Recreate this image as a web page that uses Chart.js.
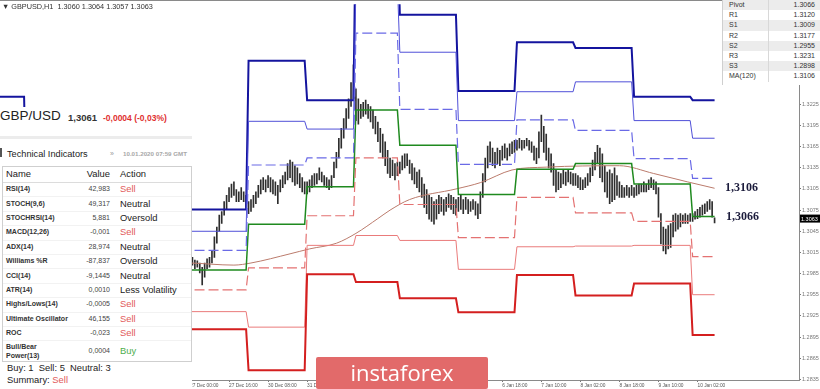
<!DOCTYPE html>
<html>
<head>
<meta charset="UTF-8">
<title>GBPUSD H1 - Pivot levels</title>
<script src="https://cdn.jsdelivr.net/npm/chart.js"></script>
<style>
  body { margin: 0; background: #fff; }
  #wrap { position: relative; width: 820px; height: 389px; overflow: hidden; font-family: "Liberation Sans", Arial, sans-serif; }
  #priceChart { position: absolute; left: 0; top: 0; }
  #topline { position: absolute; left: 0; top: 0; width: 820px; height: 1px; background: #8a8a8a; }
  #symhdr { position: absolute; left: 2px; top: 2px; font-size: 7.3px; line-height: 9px; color: #333; white-space: nowrap; }
  #side { position: absolute; left: 0; top: 107px; width: 192px; height: 282px; background: #fff; }
  .txt { position: absolute; white-space: nowrap; }
  .nm { font-size: 7px; font-weight: bold; color: #333; }
  .val { font-size: 7px; color: #444; text-align: right; }
  .act { font-size: 9.4px; color: #222; }
  .sell { color: #e25a5a; }
  .buy { color: #4cae4c; }
  #pivTbl { position: absolute; left: 722px; top: 0; width: 98px; border-left: 1px solid #cfcfcf; background: #fff; padding-bottom: 3px; }
  .prow { height: 10.2px; position: relative; font-size: 7px; color: #333; }
  .prow.g { background: #ececec; }
  .prow span { position: absolute; top: 0; line-height: 10.2px; }
  .prow .pn { left: 6px; }
  .prow .pv { right: 6px; }
  .prow .sep { left: 45px; top: 0; width: 1px; height: 10.2px; background: #d8d8d8; }
  #banner { position: absolute; left: 316px; top: 357px; width: 172px; height: 32px; background: #e26a6a; border-radius: 2px;
            color: #fff; font-family: "Open Sans", "Liberation Sans", sans-serif; font-size: 22px; line-height: 30px; text-align: center; }
</style>
</head>
<body>
<div id="wrap">
  <canvas id="priceChart" width="820" height="389"></canvas>
  <div id="topline"></div>
  <div id="symhdr">&#9660; GBPUSD,H1&nbsp; 1.3060 1.3064 1.3057 1.3063</div>
  <div id="side"></div>
  <div id="pivTbl"></div>
  <div id="banner">instaforex</div>
</div>

<script>
// ---- data ----

// H1 bars, index 0 = 27 Dec 00:00
var firstBar = -3;
var barLow = [
  1.2989, 1.2986, 1.2992,
  1.2994, 1.2997, 1.2992, 1.2994, 1.2986, 1.2969, 1.2980, 1.2992, 1.2994, 1.3000,
  1.3008, 1.3028, 1.3045, 1.3056, 1.3068, 1.3076, 1.3087, 1.3093, 1.3096, 1.3087,
  1.3087, 1.3090, 1.3087, 1.3079, 1.3070, 1.3073, 1.3079, 1.3084, 1.3093, 1.3098,
  1.3104, 1.3101, 1.3107, 1.3101, 1.3098, 1.3096, 1.3084, 1.3101, 1.3107, 1.3112,
  1.3118, 1.3121, 1.3115, 1.3110, 1.3112, 1.3107, 1.3101, 1.3098, 1.3098, 1.3101,
  1.3107, 1.3110, 1.3112, 1.3118, 1.3115, 1.3110, 1.3107, 1.3104, 1.3107, 1.3121,
  1.3135, 1.3149, 1.3163, 1.3177, 1.3191, 1.3205, 1.3222, 1.3233, 1.3202, 1.3197,
  1.3205, 1.3208, 1.3211, 1.3205, 1.3200, 1.3191, 1.3183, 1.3172, 1.3157, 1.3149,
  1.3138, 1.3127, 1.3121, 1.3124, 1.3118, 1.3124, 1.3127, 1.3132, 1.3135, 1.3138,
  1.3127, 1.3118, 1.3112, 1.3107, 1.3101, 1.3093, 1.3079, 1.3070, 1.3062, 1.3059,
  1.3055, 1.3062, 1.3070, 1.3073, 1.3068, 1.3073, 1.3079, 1.3076, 1.3070, 1.3068,
  1.3073, 1.3076, 1.3070, 1.3076, 1.3070, 1.3073, 1.3076, 1.3068, 1.3063, 1.3070,
  1.3093, 1.3115, 1.3135, 1.3143, 1.3138, 1.3135, 1.3141, 1.3138, 1.3146, 1.3149,
  1.3146, 1.3152, 1.3155, 1.3157, 1.3160, 1.3163, 1.3160, 1.3163, 1.3166, 1.3160,
  1.3157, 1.3146, 1.3141, 1.3149, 1.3172, 1.3157, 1.3146, 1.3135, 1.3129, 1.3110,
  1.3101, 1.3104, 1.3107, 1.3112, 1.3110, 1.3115, 1.3112, 1.3110, 1.3110, 1.3107,
  1.3104, 1.3104, 1.3107, 1.3110, 1.3115, 1.3124, 1.3132, 1.3141, 1.3121, 1.3115,
  1.3101, 1.3093, 1.3084, 1.3087, 1.3090, 1.3096, 1.3093, 1.3093, 1.3093, 1.3096,
  1.3093, 1.3096, 1.3093, 1.3096, 1.3098, 1.3101, 1.3101, 1.3101, 1.3104, 1.3107,
  1.3104, 1.3098, 1.3065, 1.3027, 1.3017, 1.3013, 1.3020, 1.3022, 1.3037, 1.3045,
  1.3048, 1.3051, 1.3056, 1.3056, 1.3056, 1.3059, 1.3059, 1.3062, 1.3063, 1.3065,
  1.3068, 1.3070, 1.3073, 1.3076, 1.3065, 1.3057
];
var barHigh = [
  1.3003, 1.3000, 1.3006,
  1.3006, 1.3008, 1.3004, 1.3003, 1.3000, 1.2994, 1.3000, 1.3006, 1.3008, 1.3017,
  1.3037, 1.3051, 1.3068, 1.3073, 1.3087, 1.3096, 1.3107, 1.3112, 1.3115, 1.3104,
  1.3101, 1.3107, 1.3101, 1.3096, 1.3087, 1.3090, 1.3096, 1.3101, 1.3110, 1.3118,
  1.3121, 1.3118, 1.3124, 1.3121, 1.3118, 1.3115, 1.3110, 1.3118, 1.3124, 1.3129,
  1.3141, 1.3146, 1.3143, 1.3138, 1.3135, 1.3127, 1.3121, 1.3115, 1.3115, 1.3118,
  1.3124, 1.3127, 1.3127, 1.3135, 1.3129, 1.3124, 1.3121, 1.3118, 1.3124, 1.3143,
  1.3157, 1.3177, 1.3191, 1.3205, 1.3219, 1.3233, 1.3256, 1.3281, 1.3247, 1.3233,
  1.3225, 1.3228, 1.3231, 1.3225, 1.3222, 1.3217, 1.3208, 1.3200, 1.3191, 1.3183,
  1.3172, 1.3160, 1.3149, 1.3146, 1.3141, 1.3143, 1.3143, 1.3152, 1.3155, 1.3155,
  1.3146, 1.3141, 1.3135, 1.3129, 1.3132, 1.3121, 1.3112, 1.3104, 1.3096, 1.3093,
  1.3087, 1.3090, 1.3096, 1.3093, 1.3090, 1.3093, 1.3098, 1.3096, 1.3093, 1.3090,
  1.3093, 1.3096, 1.3090, 1.3093, 1.3090, 1.3087, 1.3090, 1.3087, 1.3084, 1.3101,
  1.3127, 1.3149, 1.3166, 1.3172, 1.3163, 1.3157, 1.3163, 1.3160, 1.3166, 1.3169,
  1.3163, 1.3169, 1.3172, 1.3174, 1.3174, 1.3177, 1.3174, 1.3174, 1.3177, 1.3174,
  1.3172, 1.3166, 1.3163, 1.3186, 1.3210, 1.3194, 1.3183, 1.3163, 1.3155, 1.3141,
  1.3132, 1.3129, 1.3127, 1.3132, 1.3129, 1.3132, 1.3129, 1.3127, 1.3127, 1.3124,
  1.3121, 1.3118, 1.3121, 1.3127, 1.3135, 1.3146, 1.3157, 1.3167, 1.3163, 1.3155,
  1.3138, 1.3129, 1.3132, 1.3127, 1.3135, 1.3124, 1.3115, 1.3110, 1.3107, 1.3110,
  1.3107, 1.3110, 1.3107, 1.3110, 1.3112, 1.3112, 1.3115, 1.3112, 1.3118, 1.3121,
  1.3118, 1.3115, 1.3107, 1.3070, 1.3051, 1.3048, 1.3053, 1.3056, 1.3068, 1.3070,
  1.3068, 1.3070, 1.3068, 1.3070, 1.3068, 1.3070, 1.3070, 1.3073, 1.3076, 1.3079,
  1.3082, 1.3084, 1.3087, 1.3090, 1.3087, 1.3064
];
var lastPrice = 1.3063;

// daily pivot levels, one value per day segment (bar index where the day starts)
var dayStart = [-78, -67, 24, 48, 68, 86, 110, 134, 158, 182, 206];
var lastBar = 215;
var lvR3 = [1.3236, 1.3076, 1.3287, 1.3231, 1.3500, 1.3352, 1.3244, 1.3313, 1.3305, 1.3236, 1.3231];
var lvR2 = [null, 1.3045, 1.3201, 1.3190, 1.3395, 1.3299, 1.3202, 1.3243, 1.3257, 1.3202, 1.3177];
var lvR1 = [null, 1.3018, 1.3139, 1.3149, 1.3326, 1.3218, 1.3140, 1.3203, 1.3188, 1.3148, 1.3120];
var lvP  = [null, 1.2990, 1.3055, 1.3108, 1.3217, 1.3167, 1.3097, 1.3133, 1.3141, 1.3112, 1.3066];
var lvS1 = [null, 1.2962, 1.2993, 1.3067, 1.3149, 1.3083, 1.3036, 1.3093, 1.3071, 1.3059, 1.3009];
var lvS2 = [null, 1.2931, 1.2909, 1.3025, 1.3039, 1.3032, 1.2991, 1.3023, 1.3024, 1.3025, 1.2955];
var lvS3 = [null, 1.2906, 1.2848, 1.2984, 1.2973, 1.2950, 1.2930, 1.2983, 1.2954, 1.2971, 1.2898];

// MA(120)
var maIdx = [-20, 0, 18, 25, 41, 49, 60, 68, 77, 82, 90, 109, 119, 132, 146, 176, 190, 204, 215];
var maVal = [1.3001, 1.3000, 1.2997, 1.3000, 1.3013, 1.3020, 1.3028, 1.3042, 1.3063, 1.3075, 1.3090, 1.3105, 1.3114, 1.3132, 1.3136, 1.3138, 1.3127, 1.3115, 1.3106];

// axis labels
var priceTicks = [1.2835, 1.2865, 1.2895, 1.2925, 1.2955, 1.2985, 1.3015, 1.3045, 1.3075, 1.3105, 1.3135, 1.3165, 1.3195, 1.3225, 1.3255, 1.3285, 1.3315, 1.3345];
var timeTickIdx = [0, 16, 32, 48, 128, 144, 160, 176, 192, 208];
var timeTickLabels = ['27 Dec 00:00', '27 Dec 16:00', '30 Dec 08:00', '31 Dec 00:00', '6 Jan 18:00', '7 Jan 10:00', '8 Jan 02:00', '8 Jan 18:00', '9 Jan 10:00', '10 Jan 02:00'];

// notes on the chart
var notePrices = [1.3106, 1.3066];
var noteTexts = ['1,3106', '1,3066'];

// pivot table
var pivNames = ['Pivot', 'R1', 'S1', 'R2', 'S2', 'R3', 'S3', 'MA(120)'];
var pivValues = ['1.3066', '1.3120', '1.3009', '1.3177', '1.2955', '1.3231', '1.2898', '1.3106'];

// technical indicators table
var indNames = ['RSI(14)', 'STOCH(9,6)', 'STOCHRSI(14)', 'MACD(12,26)', 'ADX(14)', 'Williams %R', 'CCI(14)', 'ATR(14)', 'Highs/Lows(14)', 'Ultimate Oscillator', 'ROC', 'Bull/Bear Power(13)'];
var indValues = ['42,983', '49,317', '5,881', '-0,001', '28,974', '-87,837', '-9,1445', '0,0010', '-0,0005', '46,155', '-0,023', '0,0004'];
var indActions = ['Sell', 'Neutral', 'Oversold', 'Sell', 'Neutral', 'Oversold', 'Neutral', 'Less Volatility', 'Sell', 'Sell', 'Sell', 'Buy'];


// ---- side panel (html) ----
var side = document.getElementById('side');
function addText(txt, x, cy, lh, cls, alignRight) {
  var d = document.createElement('div');
  d.className = 'txt ' + (cls || '');
  d.textContent = txt;
  if (alignRight) d.style.right = (192 - x) + 'px';
  else d.style.left = x + 'px';
  d.style.top = (cy - 107 - lh / 2) + 'px';
  d.style.lineHeight = lh + 'px';
  side.appendChild(d);
  return d;
}
function addBox(x, y, w, h, css) {
  var d = document.createElement('div');
  d.style.position = 'absolute';
  d.style.left = x + 'px';
  d.style.top = (y - 107) + 'px';
  d.style.width = w + 'px';
  d.style.height = h + 'px';
  d.style.cssText += css;
  side.appendChild(d);
  return d;
}

var t = addText('GBP/USD', 0, 116, 16);
t.style.fontSize = '13.5px'; t.style.color = '#222';
t = addText('1,3061', 68, 118, 12);
t.style.fontSize = '9.5px'; t.style.fontWeight = 'bold'; t.style.color = '#333';
t = addText('-0,0004 (-0,03%)', 103, 118, 12);
t.style.fontSize = '8.5px'; t.style.fontWeight = 'bold'; t.style.color = '#e03030';

addBox(0, 136, 192, 3, 'background:#ececec;');
addBox(0, 148, 2, 9, 'background:#555;');
t = addText('Technical Indicators', 7, 154, 12);
t.style.fontSize = '9.2px'; t.style.color = '#222';
t = addText('\u00bb', 110, 154, 10);
t.style.fontSize = '7px'; t.style.color = '#999';
t = addText('10.01.2020 07:59 GMT', 123, 154, 10);
t.style.fontSize = '6.2px'; t.style.color = '#a8a8a8'; t.style.fontWeight = 'bold';

addBox(2, 166, 188, 194, 'border:1px solid #cfcfcf; background:#fff;');
addBox(3, 182, 188, 1, 'background:#dcdcdc;');
t = addText('Name', 6, 174, 12); t.style.fontSize = '9.4px'; t.style.color = '#222';
t = addText('Value', 110, 174, 12, '', true); t.style.fontSize = '9.4px'; t.style.color = '#222';
t = addText('Action', 120, 174, 12); t.style.fontSize = '9.4px'; t.style.color = '#222';

var rowTop = 182, rowH = 14.4;
indNames.forEach(function (name, r) {
  var cy = rowTop + rowH * r + rowH / 2;
  if (r === indNames.length - 1) {
    cy = 351;
    addText('Bull/Bear', 6, 346.7, 9, 'nm');
    addText('Power(13)', 6, 355, 9, 'nm');
  } else {
    addText(name, 6, cy, 10, 'nm');
    addBox(3, rowTop + rowH * (r + 1), 188, 1, 'background:#f2f2f2;');
  }
  addText(indValues[r], 110, cy, 10, 'val', true);
  var a = indActions[r];
  addText(a, 120, cy, 12, 'act' + (a === 'Sell' ? ' sell' : a === 'Buy' ? ' buy' : ''));
});

t = addText('Buy: 1\u00a0\u00a0Sell: 5\u00a0\u00a0Neutral: 3', 7, 368, 12, 'act');
t = addText('Summary: ', 7, 380, 12, 'act');
var s = document.createElement('span'); s.className = 'sell'; s.textContent = 'Sell'; t.appendChild(s);

// ---- pivot table (html) ----
var piv = document.getElementById('pivTbl');
pivNames.forEach(function (n, k) {
  var row = document.createElement('div');
  row.className = 'prow' + (k % 2 === 0 ? ' g' : '');
  row.innerHTML = '<span class="pn">' + n + '</span><span class="sep"></span><span class="pv">' + pivValues[k] + '</span>';
  piv.appendChild(row);
});


// ---- chart ----
function stepPoints(levels) {
  var pts = [];
  levels.forEach(function (v, d) {
    var s = dayStart[d];
    var e = d + 1 < dayStart.length ? dayStart[d + 1] - 1 : lastBar;
    pts.push({ x: s, y: v }, { x: e, y: v });
  });
  return pts;
}

var bars = barLow.map(function (lo, k) {
  return { x: firstBar + k, y: [lo, barHigh[k]] };
});
var maPts = maIdx.map(function (x, k) { return { x: x, y: maVal[k] }; });

function levelSet(levels, color, width, dash) {
  return {
    type: 'line', data: stepPoints(levels), borderColor: color, borderWidth: width,
    borderDash: dash || [], pointRadius: 0, fill: false, tension: 0, order: 1
  };
}

var priceMarks = {
  id: 'priceMarks',
  afterDraw: function (chart) {
    var ctx = chart.ctx, ys = chart.scales.y, area = chart.chartArea;
    ctx.save();
    ctx.font = 'bold 12px "Liberation Serif", serif';
    ctx.fillStyle = '#1c1c3c';
    ctx.textBaseline = 'middle';
    notePrices.forEach(function (p, k) {
      ctx.fillText(noteTexts[k], 725 + k * 1, ys.getPixelForValue(p));
    });
    var py = ys.getPixelForValue(lastPrice);
    ctx.fillStyle = '#000';
    ctx.fillRect(area.right + 1, py - 4, 21, 8);
    ctx.fillStyle = '#fff';
    ctx.font = '5.5px "Liberation Sans", sans-serif';
    ctx.fillText(lastPrice.toFixed(4), area.right + 2, py + 0.5);
    ctx.restore();
  }
};

new Chart(document.getElementById('priceChart'), {
  type: 'bar',
  data: {
    datasets: [
      { type: 'bar', data: bars, backgroundColor: '#2e2e2e', barThickness: 1, grouped: false, order: 10 },
      { type: 'line', data: maPts, borderColor: '#bb7b6c', borderWidth: 1, pointRadius: 0, fill: false, cubicInterpolationMode: 'monotone', order: 2 },
      levelSet(lvS3, '#d41f1f', 2),
      levelSet(lvS2, '#ea7b7b', 1),
      levelSet(lvS1, '#e47272', 1.2, [10, 4]),
      levelSet(lvR1, '#6a6ae6', 1.2, [10, 4]),
      levelSet(lvR2, '#5050d8', 1),
      levelSet(lvR3, '#14149e', 2),
      levelSet(lvP, '#1f8a1f', 1.5)
    ]
  },
  options: {
    responsive: false,
    animation: false,
    devicePixelRatio: 1,
    layout: { padding: { top: 1, left: 0, right: 0, bottom: 0 } },
    plugins: { legend: { display: false }, tooltip: { enabled: false } },
    scales: {
      x: {
        type: 'linear', offset: false, min: -77.87, max: 249.6,
        afterBuildTicks: function (scale) {
          scale.ticks = timeTickIdx.map(function (v) { return { value: v }; });
        },
        afterFit: function (scale) { scale.height = 9; },
        grid: { display: true, drawOnChartArea: false, drawTicks: true, tickLength: 2, tickColor: '#777', offset: false },
        border: { display: true, color: '#8a8a8a' },
        ticks: {
          autoSkip: false, maxRotation: 0, align: 'start', padding: 1,
          font: { family: 'Liberation Sans', size: 4.8 }, color: '#555',
          callback: function (v) { return timeTickLabels[timeTickIdx.indexOf(v)]; }
        }
      },
      y: {
        type: 'linear', position: 'right', beginAtZero: false, min: 1.2834, max: 1.3367,
        afterBuildTicks: function (scale) {
          scale.ticks = priceTicks.map(function (v) { return { value: v }; });
        },
        afterFit: function (scale) { scale.width = 21; },
        grid: { display: true, drawOnChartArea: false, drawTicks: true, tickLength: 2, tickColor: '#777' },
        border: { display: true, color: '#8a8a8a' },
        ticks: {
          padding: 1, font: { family: 'Liberation Sans', size: 5.5 }, color: '#777',
          callback: function (v) { return Number(v).toFixed(4); }
        }
      }
    }
  },
  plugins: [priceMarks]
});
</script>
</body>
</html>
